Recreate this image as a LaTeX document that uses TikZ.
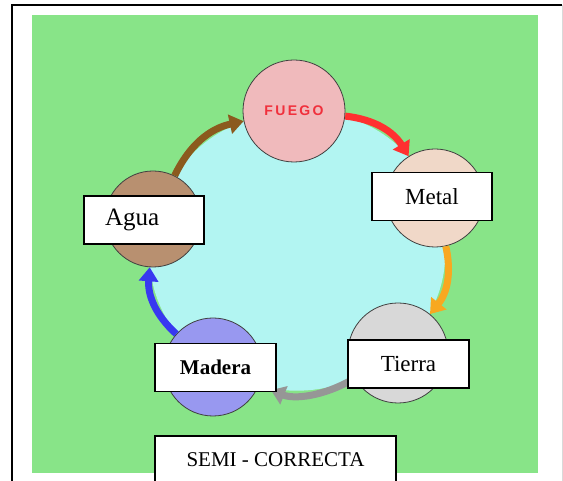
\documentclass[tikz,border=0pt]{standalone}
\usepackage{fontspec}
\setmainfont{Liberation Serif}
\newfontfamily\fuegofont{Liberation Sans}
\usetikzlibrary{arrows.meta}
\definecolor{fondo}{RGB}{136,228,136}
\definecolor{centro}{RGB}{178,245,242}
\definecolor{cfuego}{RGB}{240,186,188}
\definecolor{cmetal}{RGB}{240,216,200}
\definecolor{ctierra}{RGB}{216,216,216}
\definecolor{cmadera}{RGB}{152,152,240}
\definecolor{cagua}{RGB}{184,144,112}
\definecolor{rojo}{RGB}{240,48,60}
\definecolor{fagua}{RGB}{139,90,30}
\definecolor{ffuego}{RGB}{255,48,48}
\definecolor{fmetal}{RGB}{248,168,32}
\definecolor{ftierra}{RGB}{150,150,150}
\definecolor{fmadera}{RGB}{56,56,240}
\tikzset{
  elemento/.style={draw=black!75, circle, line width=0.8pt, inner sep=0pt, minimum size=#1},
  etiqueta/.style={draw, fill=white, rectangle, line width=1.5pt, inner sep=0pt, minimum width=120pt, minimum height=48pt, font=\fontsize{23}{27}\selectfont},
  flecha/.style={draw=#1, line width=7pt, -{Triangle[length=14pt,width=19pt]}, bend left=26}
}
\begin{document}
\begin{tikzpicture}[x=1pt, y=1pt]
  \useasboundingbox (0,0) rectangle (563,481);
  \coordinate (cFuego) at (294,370);
  \coordinate (cMetal) at (435,283);
  \coordinate (cTierra) at (398,128);
  \coordinate (cMadera) at (213,114);
  \coordinate (cAgua) at (153,262);
  % fondo y marco
  \fill[fondo] (32,8) rectangle (538,466);
  \draw[line width=2pt] (12,-5) -- (12,476) -- (562,476);
  \draw[black!15, line width=1pt] (562,476) -- (562,-5);
  \fill[centro] (cAgua) to[bend left=34] (cFuego) to[bend left=34] (cMetal) to[bend left=34] (cTierra)
    to[bend left=34] (cMadera) to[bend left=34] (cAgua) -- cycle;
  % elementos
  \node[elemento=102pt, fill=cfuego] (fuego) at (cFuego) {\fuegofont\bfseries\fontsize{14}{16}\selectfont\color{rojo}F\,U\,E\,G\,O};
  \node[elemento=98pt, fill=cmetal] (metal) at (cMetal) {};
  \node[elemento=100pt, fill=ctierra] (tierra) at (cTierra) {};
  \node[elemento=98pt, fill=cmadera] (madera) at (cMadera) {};
  \node[elemento=96pt, fill=cagua] (agua) at (cAgua) {};
  \draw[flecha=fagua] (agua) to (fuego);
  \draw[flecha=ffuego] (fuego) to (metal);
  \draw[flecha=fmetal] (metal) to (tierra);
  \draw[flecha=ftierra, shorten >=13pt] (tierra) to (madera);
  \draw[flecha=fmadera] (madera) to (agua);
  % etiquetas
  \node[etiqueta] (lMetal) at (432,284.5) {Metal};
  \node[etiqueta, minimum width=121pt] (lTierra) at (408.5,117) {Tierra};
  \node[etiqueta, minimum width=121pt, font=\fontsize{21}{25}\selectfont\bfseries] (lMadera) at (215.5,113.5) {Madera};
  \node[etiqueta, font=\fontsize{25}{29}\selectfont, text width=78pt, align=left] (lAgua) at (144,261) {Agua};
  \node[etiqueta, minimum width=241pt, font=\fontsize{21}{25}\selectfont] (semi) at (275.5,21) {SEMI - CORRECTA};
\end{tikzpicture}
\end{document}
